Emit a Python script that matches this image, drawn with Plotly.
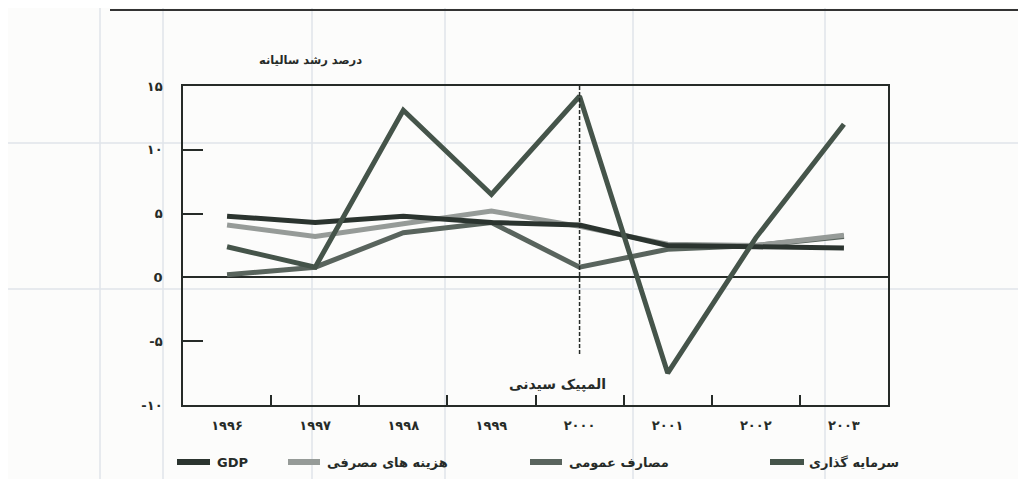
import plotly.graph_objects as go

# ---------------- data ----------------
years = ["۱۹۹۶", "۱۹۹۷", "۱۹۹۸", "۱۹۹۹", "۲۰۰۰", "۲۰۰۱", "۲۰۰۲", "۲۰۰۳"]
gdp = [4.8, 4.3, 4.8, 4.3, 4.1, 2.5, 2.4, 2.3]
consumption = [4.1, 3.2, 4.2, 5.2, 4.0, 2.6, 2.5, 3.3]
public_spending = [0.2, 0.8, 3.5, 4.3, 0.8, 2.2, 2.5, 3.2]
investment = [2.4, 0.8, 13.1, 6.5, 14.2, -7.5, 3.1, 12.0]

series_names = ["GDP", "هزینه های مصرفی", "مصارف عمومی", "سرمایه گذاری"]
y_tick_vals = [-10, -5, 0, 5, 10, 15]
y_tick_text = ["-۱۰", "-۵", "0", "۵", "۱۰", "۱۵"]
y_title = "درصد رشد سالیانه"
event_label = "المپیک سیدنی"
event_index = 4          # 2000 (Sydney Olympics)
event_line_bottom = -6.0

# ---------------- styling ----------------
PAGE_OFFSET = 8          # default page margin around the figure
W, H = 1026 - PAGE_OFFSET, 479 - PAGE_OFFSET
L, R, T, B = 175, 138, 78, 74
plot_w = W - L - R
plot_h = H - T - B
FONT = "DejaVu Sans"
INK = "#262b28"
colors = {
    "GDP": "#2b342f",
    "هزینه های مصرفی": "#969b98",
    "مصارف عمومی": "#59645d",
    "سرمایه گذاری": "#45544a",
}

def px_x(px):
    return (px - PAGE_OFFSET - L) / plot_w

def px_y(py):
    return (H - B - (py - PAGE_OFFSET)) / plot_h

x = list(range(len(years)))
fig = go.Figure()

values = {
    "GDP": gdp,
    "هزینه های مصرفی": consumption,
    "مصارف عمومی": public_spending,
    "سرمایه گذاری": investment,
}
for name in ["مصارف عمومی", "هزینه های مصرفی", "GDP", "سرمایه گذاری"]:
    fig.add_trace(go.Scatter(
        x=x, y=values[name], mode="lines", name=name,
        line=dict(color=colors[name], width=5),
        showlegend=False, hoverinfo="skip",
    ))

# invisible trace to drive the secondary x axis (inner tick marks between years)
fig.add_trace(go.Scatter(x=[x[0], x[-1]], y=[0, 0], xaxis="x2", mode="lines",
                         line=dict(width=0), showlegend=False, hoverinfo="skip"))

shapes = []
# faint bleed-through table lines of the scanned page
faint = "#e1e4ea"
for vx in [100, 163, 312, 445, 633, 825]:
    shapes.append(dict(type="line", xref="paper", yref="paper", x0=px_x(vx), x1=px_x(vx),
                       y0=px_y(PAGE_OFFSET), y1=px_y(479), line=dict(color=faint, width=1.5), layer="below"))
for hy in [143, 289]:
    shapes.append(dict(type="line", xref="paper", yref="paper", x0=px_x(PAGE_OFFSET), x1=px_x(1026),
                       y0=px_y(hy), y1=px_y(hy), line=dict(color=faint, width=1.5), layer="below"))
shapes.append(dict(type="line", xref="paper", yref="paper", x0=px_x(110), x1=px_x(1026),
                   y0=px_y(10), y1=px_y(10), line=dict(color="#333", width=2)))

# event dashed line
shapes.append(dict(type="line", xref="x", yref="y", x0=event_index, x1=event_index,
                   y0=15, y1=event_line_bottom, line=dict(color=INK, width=1.5, dash="4px,2px")))

# legend swatches + labels
legend_items = [
    ("GDP", 177, 210, 215),
    ("هزینه های مصرفی", 288, 320, 325),
    ("مصارف عمومی", 530, 562, 567),
    ("سرمایه گذاری", 770, 804, 807),
]
annotations = []
ly = 462
for name, s0, s1, tx in legend_items:
    shapes.append(dict(type="line", xref="paper", yref="paper", x0=px_x(s0), x1=px_x(s1),
                       y0=px_y(ly), y1=px_y(ly), line=dict(color=colors[name], width=6)))
    annotations.append(dict(xref="paper", yref="paper", x=px_x(tx), y=px_y(ly),
                            xanchor="left", yanchor="middle", showarrow=False,
                            text="<b>%s</b>" % name,
                            font=dict(family=FONT, size=13, color=INK)))

annotations.append(dict(xref="paper", yref="paper", x=px_x(310), y=px_y(60),
                        xanchor="center", yanchor="middle", showarrow=False,
                        text="<b>%s</b>" % y_title, font=dict(family=FONT, size=11.5, color=INK)))
annotations.append(dict(xref="x", yref="y", x=event_index - 0.25, y=-8.4,
                        xanchor="center", yanchor="middle", showarrow=False,
                        text="<b>%s</b>" % event_label,
                        font=dict(family=FONT, size=14, color=INK)))

fig.update_layout(
    width=W, height=H,
    margin=dict(l=L, r=R, t=T, b=B, autoexpand=False),
    paper_bgcolor="#fcfcfb", plot_bgcolor="rgba(0,0,0,0)",
    font=dict(family=FONT, color=INK),
    shapes=shapes, annotations=annotations,
    xaxis=dict(range=[-0.5, len(years) - 0.5], tickvals=x, ticktext=["<b>%s</b>" % t for t in years],
               ticks="", showgrid=False, zeroline=False,
               showline=True, mirror=True, linecolor=INK, linewidth=1.6,
               tickfont=dict(family=FONT, size=13, color=INK), ticklabelstandoff=8),
    xaxis2=dict(overlaying="x", matches="x", side="bottom",
                tickvals=[i + 0.5 for i in x[:-1]], ticks="inside", ticklen=10,
                tickwidth=1.6, tickcolor=INK, showticklabels=False,
                showgrid=False, zeroline=False, showline=False),
    yaxis=dict(range=[-10, 15], tickvals=y_tick_vals, ticktext=["<b>%s</b>" % t for t in y_tick_text],
               ticks="inside", ticklen=20, tickwidth=1.6, tickcolor=INK,
               showgrid=False, zeroline=True, zerolinecolor=INK, zerolinewidth=1.6,
               showline=True, mirror=True, linecolor=INK, linewidth=1.6,
               tickfont=dict(family=FONT, size=13, color=INK), ticklabelstandoff=16),
)

fig.write_html("out.html")
